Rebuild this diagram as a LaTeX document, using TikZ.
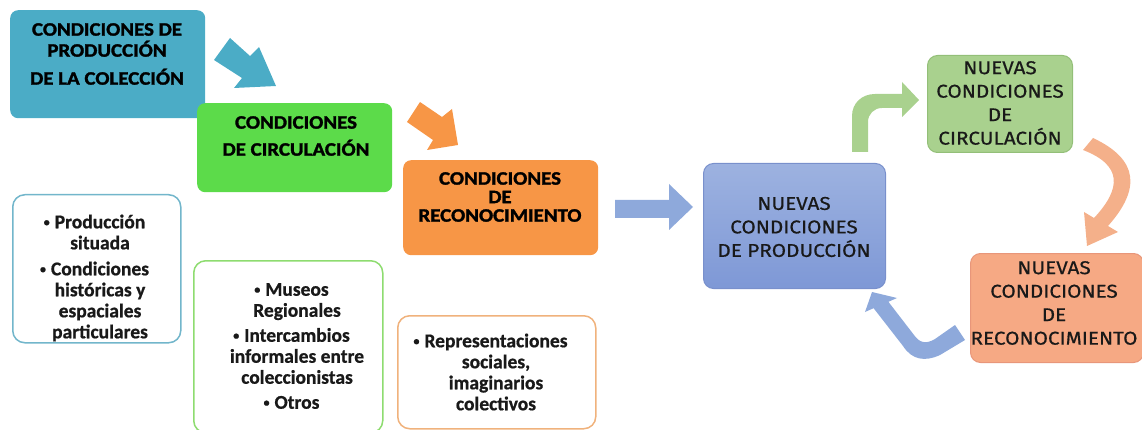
\documentclass[tikz,border=0pt]{standalone}
\usepackage{fontspec}
\newfontfamily\headfont[FakeStretch=1.1,RawFeature={embolden=1.6}]{Carlito Bold}
\newfontfamily\listfont[RawFeature={embolden=0.8}]{Carlito Bold}
\newfontfamily\nuevafont[FakeStretch=1.12,RawFeature={embolden=0.6}]{Fira Sans}
\newcommand\bul{\llap{\raisebox{2.2pt}{\fontsize{12}{12}\selectfont •}\hspace{5pt}}}
\definecolor{cTeal}{HTML}{4BACC6}
\definecolor{cGreen}{HTML}{5CDB4A}
\definecolor{cOrange}{HTML}{F79646}
\definecolor{cBlueT}{HTML}{9DB2E0}
\definecolor{cBlueB}{HTML}{7E98D6}
\definecolor{cBlueD}{HTML}{7990CC}
\definecolor{cLGreen}{HTML}{A9D18E}
\definecolor{cLGreenD}{HTML}{93BF78}
\definecolor{cSalmon}{HTML}{F6A984}
\definecolor{cSalmonD}{HTML}{E8967A}
\definecolor{cArrowBlue}{HTML}{8EA9DB}
\definecolor{cArrowSalmon}{HTML}{F4B08A}
\definecolor{cBorderTeal}{HTML}{72B6CB}
\definecolor{cBorderGreen}{HTML}{8EDC70}
\definecolor{cBorderOrange}{HTML}{F0B27C}
\tikzset{
  hbox/.style={rectangle, rounded corners=8pt, anchor=north west, inner sep=0pt},
  htext/.style={font=\headfont\fontsize{19}{21}\selectfont, align=center, text=black, inner sep=0pt},
  lbox/.style={rectangle, rounded corners=12pt, draw, line width=1.5pt, fill=white, anchor=north west, inner sep=0pt},
  ltext/.style={font=\listfont\fontsize{19.5}{21}\selectfont, align=center, text=black!90, inner sep=0pt},
  nbox/.style={rectangle, rounded corners=10pt, draw, line width=1pt, anchor=north west, inner sep=0pt},
  ntext/.style={font=\nuevafont\fontsize{18.5}{23.5}\selectfont, align=center, text=black!90, inner sep=0pt}
}
\begin{document}
\begin{tikzpicture}[x=1pt,y=-1pt]
\useasboundingbox (0,0) rectangle (1142,430);
% heading boxes
\node[hbox, fill=cTeal, minimum width=195pt, minimum height=108pt] (p1) at (10,10) {};
\node[htext] (t1) at (107,54) {CONDICIONES DE\\PRODUCCIÓN\\[7pt]DE LA COLECCIÓN};
\node[hbox, fill=cGreen, minimum width=195pt, minimum height=89pt] (p2) at (197,103) {};
\node[htext] (t2) at (296,136) {CONDICIONES\\[6pt]DE CIRCULACIÓN};
\node[hbox, fill=cOrange, minimum width=195pt, minimum height=95pt] (p3) at (403,160) {};
\node[htext, font=\headfont\fontsize{19}{18.5}\selectfont] (t3) at (500,197) {CONDICIONES\\DE\\RECONOCIMIENTO};
% block arrows left
\fill[cTeal] (230,38) -- (250,56) -- (259,47) -- (276,86) -- (234,88) -- (242,78) -- (214,60) -- cycle;
\fill[cOrange] (420,102) -- (442,117) -- (452,109) -- (458,145) -- (427,150) -- (433,140) -- (407,122) -- cycle;
\fill[cArrowBlue] (615,200) -- (669,200) -- (669,184) -- (693,207) -- (669,230) -- (669,218) -- (615,218) -- cycle;
% list boxes
\node[lbox, draw=cBorderTeal, minimum width=168pt, minimum height=148pt] (l1) at (12,194) {};
\node[ltext] (lt1) at (100,278) {\bul Producción\\situada\\[5pt]\bul Condiciones\\históricas y\\espaciales\\particulares};
\node[lbox, draw=cBorderGreen, minimum width=189pt, minimum height=172pt] (l2) at (193,260) {};
\node[ltext] (lt2) at (297,346) {\bul Museos\\Regionales\\[4pt]\bul Intercambios\\informales entre\\coleccionistas\\[4pt]\bul Otros};
\node[lbox, draw=cBorderOrange, minimum width=198pt, minimum height=113pt] (l3) at (397,315) {};
\node[ltext] (lt3) at (496,372) {\bul Representaciones\\sociales,\\imaginarios\\colectivos};
% right cycle
\node[nbox, top color=cBlueT, bottom color=cBlueB, draw=cBlueD, minimum width=182pt, minimum height=125pt] (n1) at (703,163) {};
\node[ntext] (nt1) at (794,227) {NUEVAS\\CONDICIONES\\DE PRODUCCIÓN};
\node[nbox, fill=cLGreen, draw=cLGreenD, minimum width=145pt, minimum height=97pt] (n2) at (927,55) {};
\node[ntext] (nt2) at (1000,103) {NUEVAS\\CONDICIONES\\DE\\CIRCULACIÓN};
\node[nbox, fill=cSalmon, draw=cSalmonD, minimum width=173pt, minimum height=109pt] (n3) at (970,253) {};
\node[ntext] (nt3) at (1054,303) {NUEVAS\\CONDICIONES\\DE\\RECONOCIMIENTO};
% curved arrows
\fill[cLGreen] (852,152) -- (852,116) .. controls (852,103) and (862,94) .. (875,94) -- (902,94) -- (902,82) -- (919,100) -- (902,117) -- (902,108) -- (882,108) .. controls (874,108) and (868,114) .. (868,122) -- (868,152) -- cycle;
\fill[cArrowSalmon] (1093,138) .. controls (1140,160) and (1140,190) .. (1108,226) -- (1118,232) -- (1087,246) -- (1084,212) -- (1094,218) .. controls (1122,188) and (1122,165) .. (1083,150) -- cycle;
\fill[cArrowBlue] (873.6,308.2) -- (865,312) -- (872,292) -- (897,298) -- (888.4,301.8) -- (914,335) .. controls (919,342) and (925,345) .. (935,339) -- (955,325) -- (965,340) -- (940,355) .. controls (925,362) and (912,360) .. (903,346) -- cycle;
\end{tikzpicture}
\end{document}
